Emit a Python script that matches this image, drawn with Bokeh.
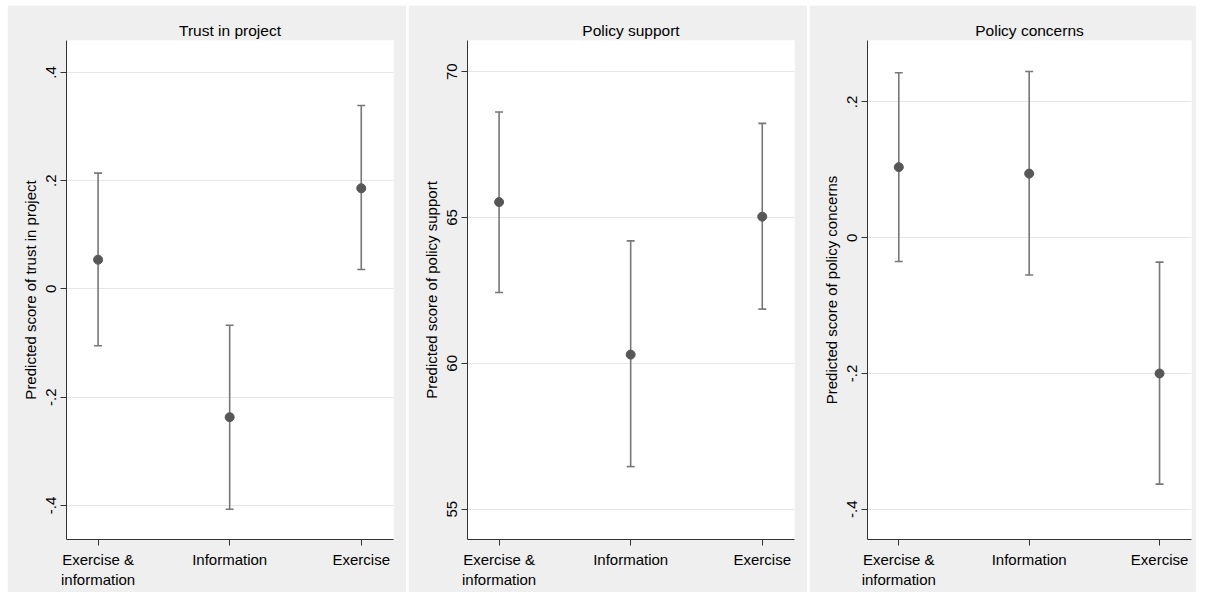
from bokeh.plotting import figure
from bokeh.layouts import row, column
from bokeh.models import FixedTicker, Range1d, Spacer
from bokeh.embed import file_html
from bokeh.resources import INLINE

categories = ["Exercise &\ninformation", "Information", "Exercise"]

titles = ["Trust in project", "Policy support", "Policy concerns"]
ylabels = ["Predicted score of trust in project",
           "Predicted score of policy support",
           "Predicted score of policy concerns"]

trust_est = [0.054, -0.237, 0.186]
trust_lo = [-0.105, -0.407, 0.036]
trust_hi = [0.214, -0.067, 0.339]

support_est = [65.53, 60.30, 65.03]
support_lo = [62.43, 56.46, 61.86]
support_hi = [68.62, 64.20, 68.23]

concern_est = [0.104, 0.0945, -0.200]
concern_lo = [-0.035, -0.055, -0.363]
concern_hi = [0.243, 0.245, -0.036]

trust_ticks = [-0.4, -0.2, 0.0, 0.2, 0.4]
trust_tick_labels = ["-.4", "-.2", "0", ".2", ".4"]
support_ticks = [55, 60, 65, 70]
support_tick_labels = ["55", "60", "65", "70"]
concern_ticks = [-0.4, -0.2, 0.0, 0.2]
concern_tick_labels = ["-.4", "-.2", "0", ".2"]

y_ranges = [(-0.463, 0.459), (53.96, 71.07), (-0.4446, 0.2906)]

FONT = "Liberation Sans"
PANEL_BG = "#efefef"
POINT_COLOR = "#575757"
LINE_COLOR = "#777777"
AXIS_COLOR = "#333333"
PANEL_H = 587

xs = list(range(1, len(categories) + 1))


def make_panel(title, ylabel, est, lo, hi, ticks, tick_labels, yr, width,
               left, right):
    p = figure(width=width, height=PANEL_H, output_backend="svg",
               toolbar_location=None, title=title,
               x_range=Range1d(0.76, 3.245), y_range=Range1d(*yr),
               min_border_left=left, min_border_right=right,
               min_border_top=35, min_border_bottom=53)
    p.background_fill_color = "white"
    p.border_fill_color = PANEL_BG
    p.outline_line_color = None

    p.title.align = "center"
    p.title.text_font = FONT
    p.title.text_font_size = "15.5px"
    p.title.text_font_style = "normal"
    p.title.text_color = "#000000"
    p.title.standoff = 4

    # grid
    p.xgrid.grid_line_color = None
    p.ygrid.grid_line_color = "#e6e6e6"
    p.ygrid.grid_line_width = 1
    p.ygrid.ticker = FixedTicker(ticks=ticks)

    # x axis
    xa = p.xaxis[0]
    xa.ticker = FixedTicker(ticks=xs)
    xa.major_label_overrides = {x: c for x, c in zip(xs, categories)}
    xa.minor_tick_line_color = None
    xa.major_tick_in = 0
    xa.major_tick_out = 6
    xa.axis_line_color = AXIS_COLOR
    xa.major_tick_line_color = AXIS_COLOR
    xa.major_label_text_font = FONT
    xa.major_label_text_font_size = "15px"
    xa.major_label_text_color = "#000000"
    xa.major_label_standoff = 5

    # y axis
    ya = p.yaxis[0]
    ya.ticker = FixedTicker(ticks=ticks)
    ya.major_label_overrides = {t: l for t, l in zip(ticks, tick_labels)}
    ya.major_label_orientation = "vertical"
    ya.minor_tick_line_color = None
    ya.major_tick_in = 0
    ya.major_tick_out = 6
    ya.axis_line_color = AXIS_COLOR
    ya.major_tick_line_color = AXIS_COLOR
    ya.major_label_text_font = FONT
    ya.major_label_text_font_size = "15px"
    ya.major_label_text_color = "#000000"
    ya.major_label_standoff = 4
    ya.axis_label = ylabel
    ya.axis_label_text_font = FONT
    ya.axis_label_text_font_size = "15px"
    ya.axis_label_text_font_style = "normal"
    ya.axis_label_text_color = "#000000"
    ya.axis_label_standoff = 5

    # confidence intervals
    p.segment(x0=xs, x1=xs, y0=lo, y1=hi, line_color=LINE_COLOR,
              line_width=1.6)
    p.scatter(x=xs, y=lo, marker="dash", size=8, line_color=LINE_COLOR,
              line_width=1.6)
    p.scatter(x=xs, y=hi, marker="dash", size=8, line_color=LINE_COLOR,
              line_width=1.6)
    # point estimates
    p.scatter(x=xs, y=est, marker="circle", size=9, fill_color=POINT_COLOR,
              line_color=POINT_COLOR)
    return p


p1 = make_panel(titles[0], ylabels[0], trust_est, trust_lo, trust_hi,
                trust_ticks, trust_tick_labels, y_ranges[0], 399, 59, 13)
p2 = make_panel(titles[1], ylabels[1], support_est, support_lo, support_hi,
                support_ticks, support_tick_labels, y_ranges[1], 399, 59, 13)
p3 = make_panel(titles[2], ylabels[2], concern_est, concern_lo, concern_hi,
                concern_ticks, concern_tick_labels, y_ranges[2], 387, 58, 5)

layout = column(
    Spacer(width=1194, height=5),
    row(Spacer(width=5, height=PANEL_H), p1, p2, p3, spacing=2),
    spacing=0,
)

open("out.html", "w").write(file_html(layout, INLINE))
